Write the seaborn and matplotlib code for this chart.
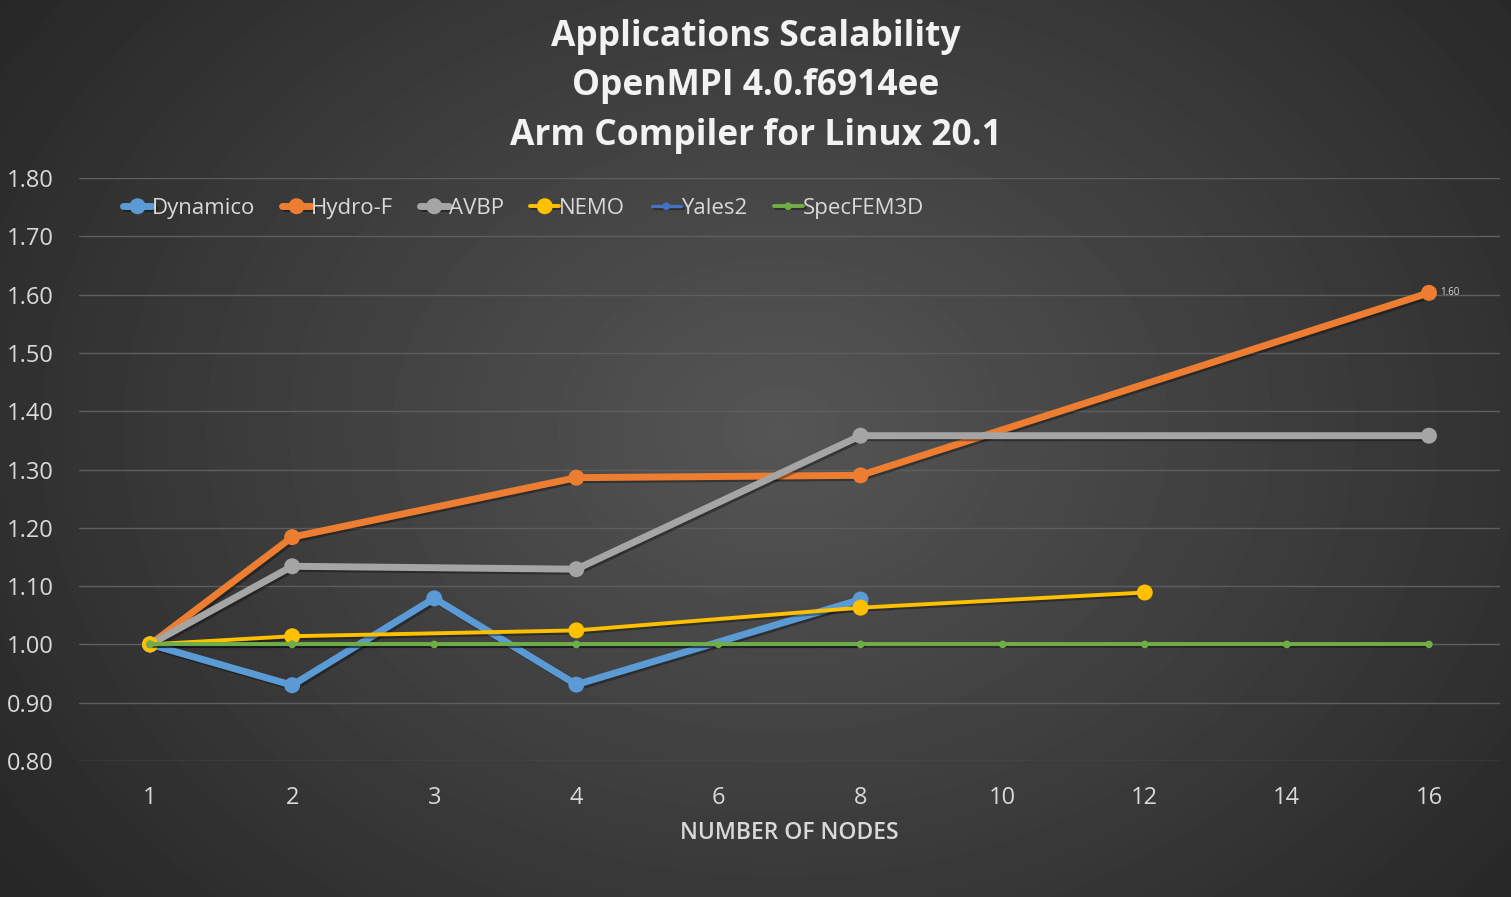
import matplotlib
matplotlib.use("Agg")
import matplotlib.pyplot as plt
import matplotlib.patheffects as pe
import seaborn as sns
import numpy as np
import pandas as pd

# node counts (category axis, equally spaced)
nodes = ["1", "2", "3", "4", "6", "8", "10", "12", "14", "16"]

nan = np.nan
dynamico  = [1.00, 0.930, 1.079, 0.931, nan, 1.077, nan, nan, nan, nan]
hydro_f   = [1.00, 1.184, nan, 1.286, nan, 1.290, nan, nan, nan, 1.603]
avbp      = [1.00, 1.134, nan, 1.129, nan, 1.358, nan, nan, nan, 1.358]
nemo      = [1.00, 1.014, nan, 1.024, nan, 1.063, nan, 1.089, nan, nan]
yales2    = [1.00, 1.00, nan, 1.00, nan, 1.00, nan, nan, nan, nan]
specfem3d = [1.00, 1.00, 1.00, 1.00, 1.00, 1.00, 1.00, 1.00, 1.00, 1.00]

series = {
    "Dynamico": dynamico,
    "Hydro-F": hydro_f,
    "AVBP": avbp,
    "NEMO": nemo,
    "Yales2": yales2,
    "SpecFEM3D": specfem3d,
}
colors = {"Dynamico": "#5B9BD5", "Hydro-F": "#ED7D31", "AVBP": "#A5A5A5",
          "NEMO": "#FFC000", "Yales2": "#4472C4", "SpecFEM3D": "#70AD47"}
# (linewidth, markersize)
styles = {"Dynamico": (5, 11.5), "Hydro-F": (5, 11.5), "AVBP": (5, 11.5),
          "NEMO": (2.8, 11.5), "Yales2": (2.4, 5.5), "SpecFEM3D": (2.8, 5.5)}

sns.set_style("dark")
plt.rcParams['font.family'] = ['Open Sans', 'DejaVu Sans']
txt = "#D9D9D9"

fig = plt.figure(figsize=(15.11, 8.97), dpi=100)

# radial gradient background
bg = fig.add_axes([0, 0, 1, 1])
yy, xx = np.mgrid[0:897, 0:1511]
r = np.sqrt(((xx - 780) / 900.0) ** 2 + ((yy - 430) / 700.0) ** 2)
shade = np.clip(0.335 - 0.17 * r, 0.15, 0.34)
bg.imshow(shade, cmap="gray", vmin=0, vmax=1, aspect="auto", interpolation="bilinear")
bg.axis("off")

ax = fig.add_axes([79 / 1511, 136 / 897, 1421 / 1511, 583 / 897])
ax.set_facecolor("none")

shadow = [pe.SimpleLineShadow(offset=(1.5, -1.5), shadow_color="black", alpha=0.35), pe.Normal()]
pos = np.arange(len(nodes))
for name, vals in series.items():
    df = pd.DataFrame({"x": pos, "y": vals}).dropna()
    lw, ms = styles[name]
    sns.lineplot(data=df, x="x", y="y", ax=ax, color=colors[name], linewidth=lw,
                 marker="o", markersize=ms, markeredgewidth=0, label=name,
                 solid_capstyle="round", solid_joinstyle="round", zorder=3,
                 path_effects=shadow)

# data label on the last Hydro-F point
ax.annotate(f"{hydro_f[-1]:.2f}", (pos[-1], hydro_f[-1]), xytext=(8, 0),
            textcoords="offset points", fontsize=7, color=txt, va="center")

ax.set_xlim(-0.5, len(nodes) - 0.5)
ax.set_ylim(0.8, 1.8)
ax.set_yticks(np.arange(0.8, 1.81, 0.1))
ax.set_yticklabels([f"{v:.2f}" for v in np.arange(0.8, 1.81, 0.1)])
ax.set_xticks(pos)
ax.set_xticklabels(nodes)
ax.tick_params(axis="both", length=0, labelsize=17, colors=txt)
ax.tick_params(axis="y", pad=18)
ax.tick_params(axis="x", pad=18)
ax.grid(True, axis="y", color="#5E5E5E", linewidth=1)
ax.grid(False, axis="x")
for s in ax.spines.values():
    s.set_visible(False)
ax.set_xlabel("NUMBER OF NODES", fontsize=16.5, color=txt, fontweight="semibold", labelpad=8)
ax.set_ylabel("")

leg = ax.legend(loc="upper left", bbox_to_anchor=(0.017, 1.0), ncol=6, frameon=False,
                fontsize=16, handlelength=1.3, handletextpad=0.0, columnspacing=1.2)
for t in leg.get_texts():
    t.set_color(txt)

fig.text(0.5, 0.979, "Applications Scalability\nOpenMPI 4.0.f6914ee\nArm Compiler for Linux 20.1",
         ha="center", va="top", fontsize=25.5, fontweight="bold", color="#F2F2F2",
         linespacing=1.5)

fig.savefig("out.png", dpi=100, facecolor="#2b2b2b")
